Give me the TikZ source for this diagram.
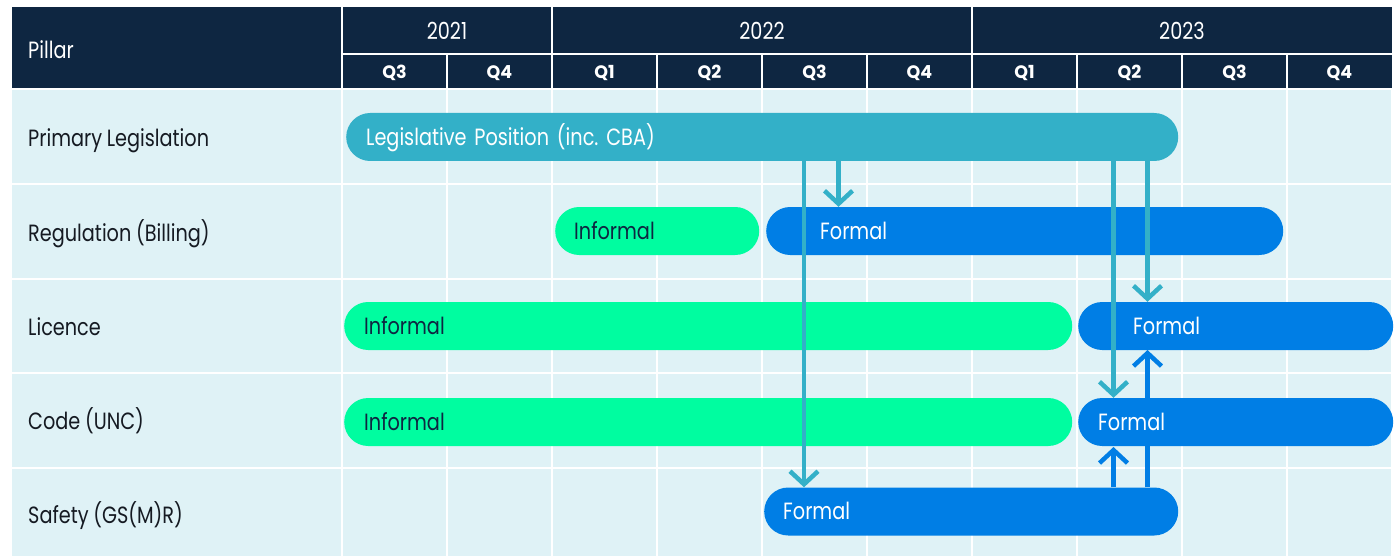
\documentclass[tikz,border=0pt]{standalone}
\usepackage{fontspec}
\setmainfont{Poppins}[FakeStretch=0.82, WordSpace=0.9]
\newfontfamily\qfont{Poppins}[FakeStretch=0.97]
\usetikzlibrary{arrows.meta}
\definecolor{navy}{HTML}{0E2641}
\definecolor{cell}{HTML}{DFF2F6}
\definecolor{tealc}{HTML}{33B0C8}
\definecolor{greenc}{HTML}{00FDA0}
\definecolor{bluec}{HTML}{007EE5}
\definecolor{labc}{HTML}{151A22}
\frenchspacing
\begin{document}
\begin{tikzpicture}[x=1pt,y=-1pt,
  txt/.style={font=\fontsize{23.5}{27}\selectfont\frenchspacing, text height=16.5pt, text depth=0pt, inner sep=0pt},
  lab/.style={txt, text=labc, anchor=west},
  hd/.style={txt, text=white},
  qlab/.style={font=\qfont\bfseries\fontsize{18}{20}\selectfont, text=white, text height=12.5pt, text depth=0pt, inner sep=0pt},
  bar/.style={txt, rounded corners=24pt, minimum height=48pt, inner ysep=0pt, anchor=west, align=left},
  grid/.style={white, line width=2.7pt},
  link/.style={line width=4.5pt, -{Straight Barb[length=13pt,width=28pt]}},
]
\useasboundingbox (0,0) rectangle (1399,556);
\fill[white] (0,0) rectangle (1399,556);
% header
\fill[navy] (12,7) rectangle (1392,88);
\draw[grid] (342,7) -- (342,88);
\draw[grid] (552,7) -- (552,88);
\draw[grid] (972,7) -- (972,88);
\draw[grid] (342,54) -- (1392,54);
\foreach \x in {447,657,762,867,1077,1182,1287} \draw[grid] (\x,54) -- (\x,88);
\node[hd, anchor=west] (hp) at (28,50.5) {Pillar};
\node[hd] (y1) at (447,31.5) {2021};
\node[hd] (y2) at (762,31.5) {2022};
\node[hd] (y3) at (1182,31.5) {2023};
\node[qlab] (q1) at (394.5,72) {Q3};
\node[qlab] (q2) at (499.5,72) {Q4};
\node[qlab] (q3) at (604.5,72) {Q1};
\node[qlab] (q4) at (709.5,72) {Q2};
\node[qlab] (q5) at (814.5,72) {Q3};
\node[qlab] (q6) at (919.5,72) {Q4};
\node[qlab] (q7) at (1024.5,72) {Q1};
\node[qlab] (q8) at (1129.5,72) {Q2};
\node[qlab] (q9) at (1234.5,72) {Q3};
\node[qlab] (q10) at (1339.5,72) {Q4};
% body grid
\fill[cell] (12,90) rectangle (1391,556);
\foreach \y in {184,279,373,468} \draw[grid] (12,\y) -- (1391,\y);
\foreach \x in {342,447,552,657,762,867,972,1077,1182,1287} \draw[grid] (\x,90) -- (\x,556);
% row labels
\node[lab] (r1) at (28,138.5) {Primary Legislation};
\node[lab] (r2) at (28,233) {Regulation (Billing)};
\node[lab] (r3) at (28,327.5) {Licence};
\node[lab] (r4) at (28,421.5) {Code (UNC)};
\node[lab] (r5) at (28,515.5) {Safety (GS(M)R)};
% link positions
\coordinate (xa) at (804,0);
\coordinate (xb) at (838.5,0);
\coordinate (xc) at (1113.5,0);
\coordinate (xd) at (1147.5,0);
% bars (with blue links behind them)
\node[bar, fill=tealc, text=white, inner xsep=20pt, text width=792pt] (leg) at (346,137) {Legislative Position (inc. CBA)};
\node[bar, fill=greenc, text=navy, inner xsep=19pt, text width=166pt] (regI) at (555,231) {Informal};
\node[bar, fill=bluec, text=white, inner xsep=54pt, text width=409pt] (regF) at (766,231) {Formal};
\node[bar, fill=greenc, text=navy, inner xsep=20pt, text width=688pt] (licI) at (344,326) {Informal};
\node[bar, fill=greenc, text=navy, inner xsep=20pt, text width=688pt] (codI) at (344,422) {Informal};
\node[bar, fill=bluec, text=white, inner xsep=19pt, text width=376pt] (saf) at (764,511.5) {Formal};
\draw[link, bluec] (saf.north -| xc) -- (1113.5,447);
\draw[link, bluec] (saf.north -| xd) -- (1147.5,350);
\node[bar, fill=bluec, text=white, inner xsep=55pt, text width=205pt] (licF) at (1078,326) {Formal};
\node[bar, fill=bluec, text=white, inner xsep=20pt, text width=275pt] (codF) at (1078,422) {Formal};
% teal links
\draw[link, tealc] (leg.south -| xa) -- (saf.north -| xa);
\draw[link, tealc] (leg.south -| xb) -- (regF.north -| xb);
\draw[link, tealc] (leg.south -| xc) -- (codF.north -| xc);
\draw[link, tealc] (leg.south -| xd) -- (licF.north -| xd);
\end{tikzpicture}
\end{document}
